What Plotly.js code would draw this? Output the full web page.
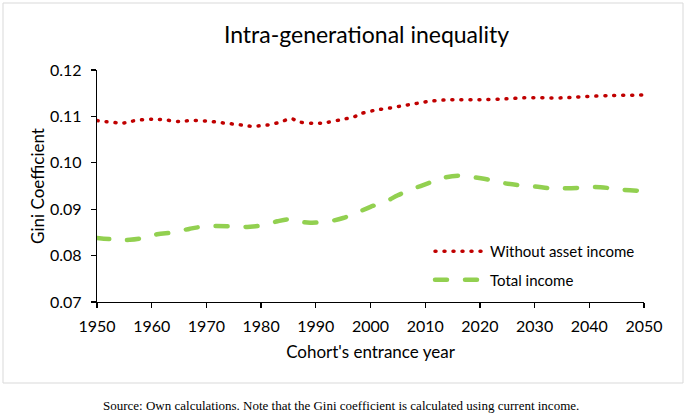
<!DOCTYPE html>
<html>
<head>
<meta charset="utf-8">
<script src="https://cdn.plot.ly/plotly-3.0.1.min.js"></script>
<style>
html,body{margin:0;padding:0;background:#fff;}
#chart{width:685px;height:414px;}
</style>
</head>
<body>
<div id="chart"></div>
<script>
// Without asset income (red dotted)
const redYears = [1950,1953,1955,1957,1960,1962,1965,1967,1970,1973,1976,1978,1980,1982,1984,1985.5,1987,1990,1992,1995,1997,1998,2000,2001,2003,2005,2007,2009,2011,2013,2015,2020,2025,2028,2035,2038,2044,2050];
const redVals  = [0.1091,0.1087,0.1086,0.1091,0.1094,0.1093,0.1089,0.1091,0.1090,0.1086,0.1082,0.1079,0.1080,0.1083,0.1090,0.1095,0.1088,0.1085,0.1087,0.1094,0.1099,0.1105,0.1111,0.1114,0.1117,0.1121,0.1125,0.1129,0.1133,0.1135,0.1136,0.1136,0.1138,0.1140,0.1140,0.1142,0.1145,0.1146];

// Total income (green dashed)
const greenYears = [1950,1953,1956,1959,1961,1964,1967,1970,1975,1978,1981,1983,1985,1987,1989,1992,1995,1997,2000,2003,2005,2008,2011,2013,2016,2018,2021,2024,2027,2030,2033,2035,2038,2041,2044,2046,2050];
const greenVals  = [0.0838,0.0835,0.0834,0.0839,0.0846,0.0850,0.0858,0.0863,0.0863,0.0862,0.0867,0.0874,0.0878,0.0873,0.0871,0.0873,0.0881,0.0890,0.0905,0.0918,0.0930,0.0945,0.0958,0.0967,0.0972,0.0970,0.0965,0.0957,0.0952,0.0949,0.0945,0.0945,0.0946,0.0948,0.0945,0.0942,0.0939];

const seriesNames = ["Without asset income", "Total income"];
const chartTitle = "Intra-generational inequality";
const xTitle = "Cohort's entrance year";
const yTitle = "Gini Coefficient";
const sourceNote = "Source: Own calculations. Note that the Gini coefficient is calculated using current income.";

const FONT = "Lato, 'Open Sans', sans-serif";

const traces = [
  {
    x: redYears, y: redVals, name: seriesNames[0], type: 'scatter', mode: 'lines',
    legendgroup: 'a',
    line: {color: '#C00000', width: 3.5, dash: '1px,8px', shape: 'spline', smoothing: 1}
  },
  {
    x: greenYears, y: greenVals, name: seriesNames[1], type: 'scatter', mode: 'lines',
    legendgroup: 'b',
    line: {color: '#92D050', width: 4.5, dash: '12px,18px', shape: 'spline', smoothing: 1}
  }
];

const layout = {
  width: 685, height: 414,
  margin: {l: 97, r: 41, t: 70, b: 112},
  paper_bgcolor: '#fff', plot_bgcolor: '#fff',
  font: {family: FONT, size: 16, color: '#000'},
  showlegend: true,
  title: {
    text: chartTitle, font: {family: FONT, size: 23, color: '#000'},
    x: 0.535, xanchor: 'center', y: 1 - 35/414, yref: 'container', yanchor: 'middle'
  },
  xaxis: {
    range: [1950, 2050], dtick: 10, tick0: 1950,
    showline: true, linecolor: '#000', linewidth: 1.3,
    ticks: 'outside', ticklen: 5, tickcolor: '#000', tickwidth: 1.3,
    ticklabelstandoff: 4,
    showgrid: false, zeroline: false,
    tickfont: {family: FONT, size: 16, color: '#000'},
    title: {text: xTitle, font: {family: FONT, size: 17, color: '#000'}, standoff: 12}
  },
  yaxis: {
    range: [0.07, 0.12], dtick: 0.01, tick0: 0.07, tickformat: '.2f',
    showline: true, linecolor: '#000', linewidth: 1.3,
    ticks: 'outside', ticklen: 5, tickcolor: '#000', tickwidth: 1.3,
    ticklabelstandoff: 6,
    showgrid: false, zeroline: false,
    tickfont: {family: FONT, size: 16, color: '#000'},
    title: {text: yTitle, font: {family: FONT, size: 17, color: '#000'}, standoff: 1}
  },
  legend: {
    x: (430 - 97) / 547, xanchor: 'left',
    y: (302 - 235) / 232, yanchor: 'top',
    bgcolor: 'rgba(0,0,0,0)', borderwidth: 0,
    font: {family: FONT, size: 15, color: '#000'},
    itemwidth: 50, traceorder: 'grouped', tracegroupgap: 6
  },
  shapes: [{
    type: 'rect', xref: 'paper', yref: 'paper',
    x0: (3 - 97) / 547, x1: (683 - 97) / 547,
    y0: (302 - 383) / 232, y1: (302 - 3) / 232,
    line: {color: '#d9d9d9', width: 1}, fillcolor: 'rgba(0,0,0,0)', layer: 'below'
  }],
  annotations: [{
    text: sourceNote, xref: 'paper', yref: 'paper',
    x: (341 - 97) / 547, y: (302 - 405) / 232, xanchor: 'center', yanchor: 'middle',
    showarrow: false, font: {family: "'Liberation Serif', 'Times New Roman', serif", size: 13, color: '#000'}
  }]
};

Plotly.newPlot('chart', traces, layout, {displayModeBar: false, staticPlot: true}).then(function () {
  document.querySelectorAll('.js-line').forEach(function (p) {
    p.style.strokeLinecap = 'round';
  });
});
</script>
</body>
</html>
